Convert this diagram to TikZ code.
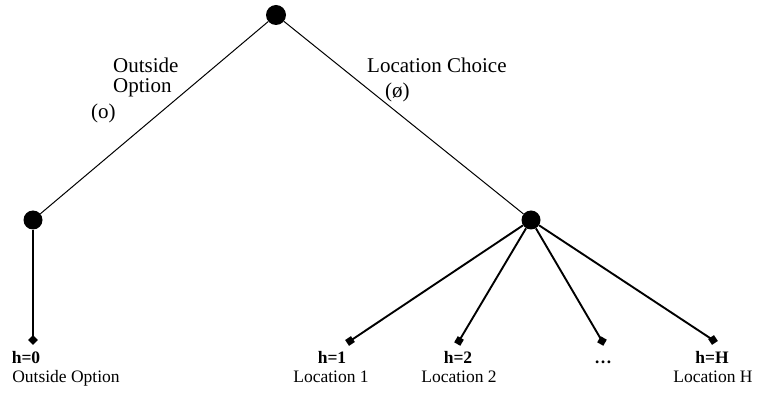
\documentclass[tikz,border=0pt]{standalone}
\usepackage{fontspec}
\setmainfont{Liberation Serif}
\begin{document}
\begin{tikzpicture}[x=1pt,y=-1pt,
  bignode/.style={circle,fill=black,inner sep=0pt,minimum size=20pt},
  midnode/.style={circle,fill=black,inner sep=0pt,minimum size=19pt},
  leaf/.style={rectangle,fill=black,inner sep=0pt,minimum size=7pt},
  thinedge/.style={line width=1pt},
  leafedge/.style={line width=1.9pt},
  toplabel/.style={font=\fontsize{21}{24}\selectfont,inner sep=0pt},
  leaflabel/.style={font=\fontsize{17.5}{20}\selectfont,inner sep=0pt,anchor=base},
  hlabel/.style={font=\fontsize{17.5}{20}\selectfont\bfseries,inner sep=0pt,anchor=base}]
\useasboundingbox (0,0) rectangle (758,395);
\node[bignode] (root) at (276,15) {};
\node[midnode] (L) at (33,220) {};
\node[midnode] (R) at (531,220) {};
\node[leaf,rotate=45] (l0) at (33,340) {};
\node[leaf,rotate=33.7] (l1) at (350,341) {};
\node[leaf,rotate=59.6] (l2) at (459,341) {};
\node[leaf,rotate=60] (l3) at (602,341) {};
\node[leaf,rotate=33.5] (l4) at (713,340) {};
\draw[thinedge] (root) -- (L);
\draw[thinedge] (root) -- (R);
\draw[leafedge] (L) -- (l0.center);
\draw[leafedge] (R) -- (l1.center);
\draw[leafedge] (R) -- (l2.center);
\draw[leafedge] (R) -- (l3.center);
\draw[leafedge] (R) -- (l4.center);
% top labels
\node[toplabel,anchor=base west] (oo1) at (113,73) {Outside};
\node[toplabel,anchor=base west] (oo2) at (113,93) {Option};
\node[toplabel,anchor=base west] (oo3) at (91,119) {(o)};
\node[toplabel,anchor=base west] (lc1) at (367,73) {Location Choice};
\node[toplabel,anchor=base west] (lc2) at (385,98) {(ø)};
% leaf labels
\node[hlabel] (h0) at (26,363) {h=0};
\node[leaflabel] (t0) at (66,383) {Outside Option};
\node[hlabel] (h1) at (332,363) {h=1};
\node[leaflabel] (t1) at (331,383) {Location 1};
\node[hlabel] (h2) at (458,363) {h=2};
\node[leaflabel] (t2) at (459,383) {Location 2};
\node[hlabel] (h3) at (603,363) {…};
\node[hlabel] (h4) at (712,363) {h=H};
\node[leaflabel] (t4) at (713,383) {Location H};
\end{tikzpicture}
\end{document}
